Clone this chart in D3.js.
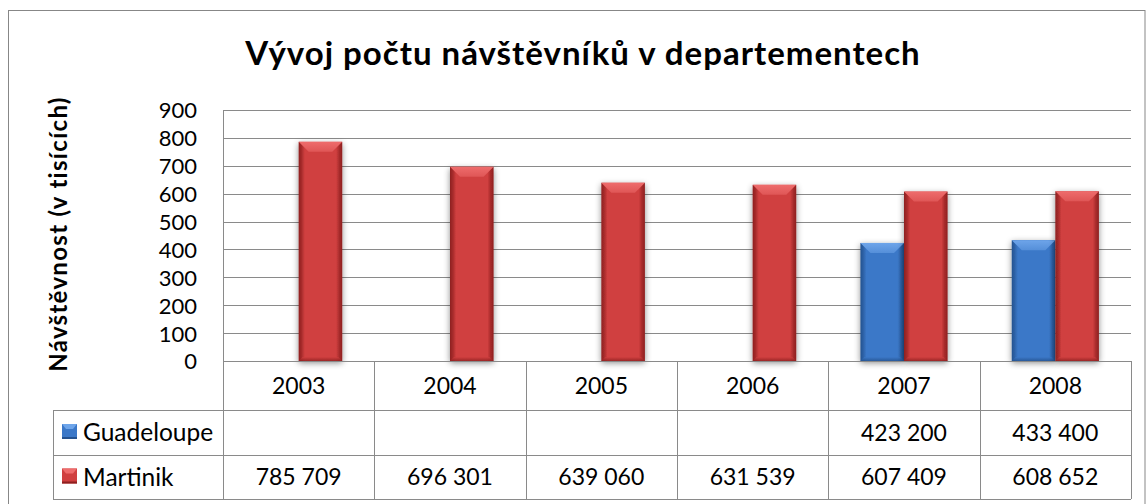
<!DOCTYPE html>
<html>
<head>
<meta charset="utf-8">
<script src="https://cdn.jsdelivr.net/npm/d3@7/dist/d3.min.js"></script>
<style>
  html, body { margin: 0; padding: 0; background: #fff; }
  svg { display: block; }
  text { font-family: Lato, "Open Sans", sans-serif; fill: #000; }
</style>
</head>
<body>
<svg id="chart" width="1146" height="504"></svg>
<script>
// ---- data ----
const title = "Vývoj počtu návštěvníků v departementech";
const yAxisTitle = "Návštěvnost (v tisících)";
const years = ["2003", "2004", "2005", "2006", "2007", "2008"];
const seriesNames = ["Guadeloupe", "Martinik"];
const guadeloupe = [null, null, null, null, 423200, 433400];
const martinik = [785709, 696301, 639060, 631539, 607409, 608652];
const yTicks = [0, 100, 200, 300, 400, 500, 600, 700, 800, 900];

const seriesValues = [guadeloupe, martinik];
const palette = {
  Guadeloupe: { main: "#3b78c8", light: "#6ea5ea", dark: "#24528f", edge: "#2d62a8" },
  Martinik:   { main: "#d03f3f", light: "#ee6c6c", dark: "#8e2020", edge: "#a82c2c" }
};

const W = 1146, H = 504;
const plot = { left: 223, right: 1131, top: 110, bottom: 361 };
const table = { legendLeft: 53, rowBottoms: [410, 455, 499] };
const grid = "#8a8a8a";

const svg = d3.select("#chart");
const defs = svg.append("defs");

const fmt = d3.formatLocale({ decimal: ",", thousands: " ", grouping: [3], currency: ["", ""] }).format(",d");

// gradients
seriesNames.forEach((s, i) => {
  const c = palette[s];
  const hg = defs.append("linearGradient").attr("id", "hg" + i).attr("x1", 0).attr("x2", 1).attr("y1", 0).attr("y2", 0);
  [[0, c.dark], [0.07, c.edge], [0.14, c.main], [0.5, c.main], [0.86, c.main], [0.93, c.edge], [1, c.dark]]
    .forEach(([o, col]) => hg.append("stop").attr("offset", o).attr("stop-color", col));
  const vg = defs.append("linearGradient").attr("id", "vg" + i).attr("x1", 0).attr("x2", 0).attr("y1", 0).attr("y2", 1);
  [[0, c.light], [1, d3.interpolateRgb(c.light, c.main)(0.5)]]
    .forEach(([o, col]) => vg.append("stop").attr("offset", o).attr("stop-color", col));
  const bg = defs.append("linearGradient").attr("id", "bg" + i).attr("x1", 0).attr("x2", 0).attr("y1", 0).attr("y2", 1);
  [[0, c.main], [1, c.dark]]
    .forEach(([o, col]) => bg.append("stop").attr("offset", o).attr("stop-color", col));
});
const f = defs.append("filter").attr("id", "shadow").attr("x", "-30%").attr("y", "-10%").attr("width", "160%").attr("height", "130%");
f.append("feDropShadow").attr("dx", 0).attr("dy", 2).attr("stdDeviation", 3).attr("flood-color", "#000").attr("flood-opacity", 0.45);

// outer border
svg.append("rect").attr("x", 8.5).attr("y", 10.5).attr("width", W - 9.5).attr("height", H - 10)
  .attr("fill", "#fff").attr("stroke", "#878787").attr("stroke-width", 1);

// title
svg.append("text").attr("x", 583).attr("y", 65).attr("text-anchor", "middle")
  .attr("font-weight", "bold").attr("font-size", 33).attr("letter-spacing", 1).text(title);

// scales
const y = d3.scaleLinear().domain([0, 900]).range([plot.bottom, plot.top]);
const x = d3.scaleBand().domain(years).range([plot.left, plot.right]).padding(0);
const barW = x.bandwidth() * 0.288;
const xs = d3.scaleBand().domain(seriesNames).range([0, barW * 2]).padding(0);

// gridlines
svg.append("g").selectAll("line").data(yTicks.filter(t => t > 0)).join("line")
  .attr("x1", plot.left).attr("x2", plot.right)
  .attr("y1", d => Math.round(y(d)) + 0.5).attr("y2", d => Math.round(y(d)) + 0.5)
  .attr("stroke", grid).attr("stroke-width", 1);

// y axis
const yAxis = d3.axisLeft(y).tickValues(yTicks).tickSize(0).tickPadding(0);
const gy = svg.append("g").attr("transform", `translate(${plot.left - 26},0)`).call(yAxis);
gy.select(".domain").remove();
gy.selectAll("text").attr("font-size", 22).attr("font-family", "Lato, sans-serif").attr("fill", "#000").attr("dy", "0.36em");
svg.append("line").attr("x1", plot.left + 0.5).attr("x2", plot.left + 0.5)
  .attr("y1", plot.top).attr("y2", plot.bottom).attr("stroke", grid);

// y title
svg.append("text").attr("transform", `translate(67,234) rotate(-90)`).attr("text-anchor", "middle")
  .attr("font-weight", "bold").attr("font-size", 24).attr("letter-spacing", 1.3).text(yAxisTitle);

// bars
const bars = [];
seriesNames.forEach((s, si) => {
  seriesValues[si].forEach((v, i) => {
    if (v != null) bars.push({ s, si, year: years[i], v: v / 1000 });
  });
});
const gb = svg.append("g");
const barG = gb.selectAll("g.bar").data(bars).join("g").attr("class", "bar");
barG.each(function (d) {
  const g = d3.select(this);
  const x0 = x(d.year) + x.bandwidth() / 2 - barW + xs(d.s);
  const x1 = x0 + xs.bandwidth();
  const y0 = y(d.v), y1 = y(0);
  const b = Math.min(10, (x1 - x0) / 4);
  g.append("rect").attr("x", x0).attr("y", y0).attr("width", x1 - x0).attr("height", y1 - y0)
    .attr("fill", `url(#hg${d.si})`).attr("filter", "url(#shadow)");
  g.append("polygon")
    .attr("points", [[x0, y0], [x1, y0], [x1 - b, y0 + b], [x0 + b, y0 + b]].map(p => p.join(",")).join(" "))
    .attr("fill", `url(#vg${d.si})`);
  g.append("polygon")
    .attr("points", [[x0, y1], [x1, y1], [x1 - 4, y1 - 4], [x0 + 4, y1 - 4]].map(p => p.join(",")).join(" "))
    .attr("fill", `url(#bg${d.si})`).attr("opacity", 0.8);
});

// axis line at zero
svg.append("line").attr("x1", plot.left).attr("x2", plot.right)
  .attr("y1", plot.bottom + 0.5).attr("y2", plot.bottom + 0.5).attr("stroke", grid);

// data table
const gt = svg.append("g");
const rb = table.rowBottoms;
rb.forEach(yy => {
  gt.append("line").attr("x1", table.legendLeft).attr("x2", plot.right)
    .attr("y1", yy + 0.5).attr("y2", yy + 0.5).attr("stroke", grid);
});
years.concat(["end"]).forEach((yr, i) => {
  const xx = i < years.length ? x(yr) : plot.right;
  gt.append("line").attr("x1", Math.round(xx) + 0.5).attr("x2", Math.round(xx) + 0.5)
    .attr("y1", plot.bottom).attr("y2", rb[2]).attr("stroke", grid);
});
gt.append("line").attr("x1", table.legendLeft + 0.5).attr("x2", table.legendLeft + 0.5)
  .attr("y1", rb[0]).attr("y2", rb[2]).attr("stroke", grid);

// category labels
gt.selectAll("text.cat").data(years).join("text").attr("class", "cat")
  .attr("x", d => x(d) + x.bandwidth() / 2).attr("y", (plot.bottom + rb[0]) / 2).attr("dy", "0.36em")
  .attr("text-anchor", "middle").attr("font-size", 23).text(d => d);

// series rows
seriesNames.forEach((s, si) => {
  const top = rb[si], bot = rb[si + 1];
  const cy = (top + bot) / 2;
  const c = palette[s];
  const kx = 62, ks = 15, ky = cy - ks / 2 - 1;
  gt.append("rect").attr("x", kx).attr("y", ky).attr("width", ks).attr("height", ks).attr("fill", c.main);
  gt.append("polygon").attr("points", [[kx, ky], [kx + ks, ky], [kx + ks - 4, ky + 5], [kx + 4, ky + 5]].map(p => p.join(",")).join(" "))
    .attr("fill", c.light);
  gt.append("rect").attr("x", kx).attr("y", ky + ks - 2).attr("width", ks).attr("height", 2).attr("fill", c.dark);
  gt.append("text").attr("x", 83).attr("y", cy).attr("dy", "0.36em").attr("font-size", 24.5).text(s);
  gt.selectAll("text.v" + si).data(seriesValues[si].map((v, i) => ({ v, year: years[i] })).filter(d => d.v != null))
    .join("text").attr("class", "v" + si)
    .attr("x", d => x(d.year) + x.bandwidth() / 2).attr("y", cy).attr("dy", "0.36em")
    .attr("text-anchor", "middle").attr("font-size", 23).text(d => fmt(d.v));
});
</script>
</body>
</html>
